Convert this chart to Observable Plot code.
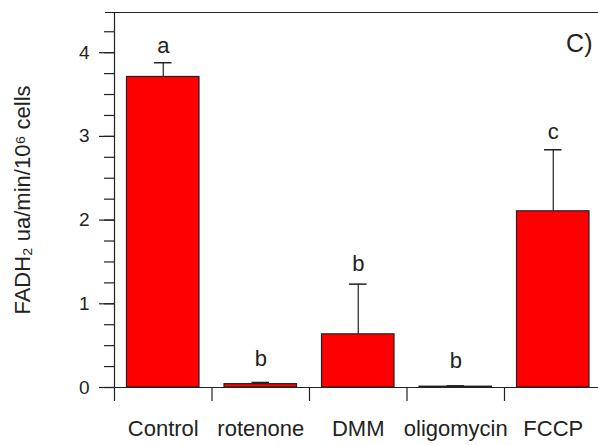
<!DOCTYPE html>
<html>
<head>
<meta charset="utf-8">
<script src="https://cdn.jsdelivr.net/npm/d3@7"></script>
<script src="https://cdn.jsdelivr.net/npm/@observablehq/plot@0.6"></script>
<style>
  html, body { margin: 0; padding: 0; background: #fff; }
</style>
</head>
<body>
<div id="chart"></div>
<script>
const categories = ["Control", "rotenone", "DMM", "oligomycin", "FCCP"];
const means = [3.71, 0.04, 0.635, 0.01, 2.105];
const errors = [0.17, 0.02, 0.6, 0.01, 0.735];
const letters = ["a", "b", "b", "b", "c"];
const letterY = [4.08, 0.34, 1.48, 0.32, 3.05];
const yTicks = [0, 1, 2, 3, 4];
const yMax = 4.48;
const panelLabel = "C)";
const yLabel = "FADH\u2082 ua/min/10\u2076 cells";

const data = categories.map((c, i) => ({
  i, cat: c, mean: means[i], err: errors[i], letter: letters[i], ly: letterY[i]
}));
const minorTicks = d3.range(0, 4.26, 0.25);
const boundaries = d3.range(0, categories.length + 1);
const centers = categories.map((c, i) => i + 0.5);
const ink = "#222";
const font = "Liberation Sans, Arial, sans-serif";

const chart = Plot.plot({
  width: 598,
  height: 445,
  marginLeft: 114,
  marginTop: 12,
  marginBottom: 58,
  marginRight: -3.5,
  style: { fontFamily: font, color: ink, background: "#fff" },
  x: { type: "linear", domain: [0, categories.length], axis: null },
  y: { domain: [0, yMax], axis: null },
  marks: [
    // bars
    Plot.rectY(data, {
      x1: d => d.i, x2: d => d.i + 1, y: "mean",
      insetLeft: 12.5, insetRight: 12.5,
      fill: "#ff0000", stroke: ink, strokeWidth: 1.2
    }),
    // error bars
    Plot.ruleX(data, { x: d => d.i + 0.5, y1: "mean", y2: d => d.mean + d.err, stroke: ink, strokeWidth: 1.2 }),
    Plot.ruleY(data, { x1: d => d.i + 0.41, x2: d => d.i + 0.59, y: d => d.mean + d.err, stroke: ink, strokeWidth: 1.5 }),
    // significance letters
    Plot.text(data, { x: d => d.i + 0.5, y: "ly", text: "letter", fontSize: 22, fill: ink, lineAnchor: "middle" }),
    // frame lines
    Plot.ruleY([yMax], { stroke: ink, strokeWidth: 1.2, insetLeft: -9 }),
    Plot.ruleX([0], { stroke: ink, strokeWidth: 1.2 }),
    Plot.ruleY([0], { stroke: ink, strokeWidth: 1.2 }),
    // y axis
    Plot.axisY(minorTicks, { tickSize: 10, text: null, stroke: ink, strokeWidth: 1.2, label: null }),
    Plot.axisY(yTicks, { tickSize: 15, tickPadding: 10, tickFormat: "d", fontSize: 19, stroke: ink, strokeWidth: 1.2, label: null, fill: ink }),
    // x axis: boundary ticks and centered labels
    Plot.axisX(boundaries, { tickSize: 14, text: null, stroke: ink, strokeWidth: 1.2, label: null }),
    Plot.axisX(centers, { tickSize: 0, tickPadding: 33, fontSize: 22, tickFormat: v => categories[Math.floor(v)], label: null, fill: ink }),
    // y label
    Plot.text([yLabel], { frameAnchor: "left", text: d => d, rotate: -90, dx: -92, fontSize: 22, fill: ink, textAnchor: "middle", lineAnchor: "middle" }),
    // panel label
    Plot.text([panelLabel], { frameAnchor: "top-right", text: d => d, dx: -9.5, dy: 31, fontSize: 25, fill: ink, textAnchor: "end", lineAnchor: "middle" })
  ]
});
document.getElementById("chart").appendChild(chart);
</script>
</body>
</html>
